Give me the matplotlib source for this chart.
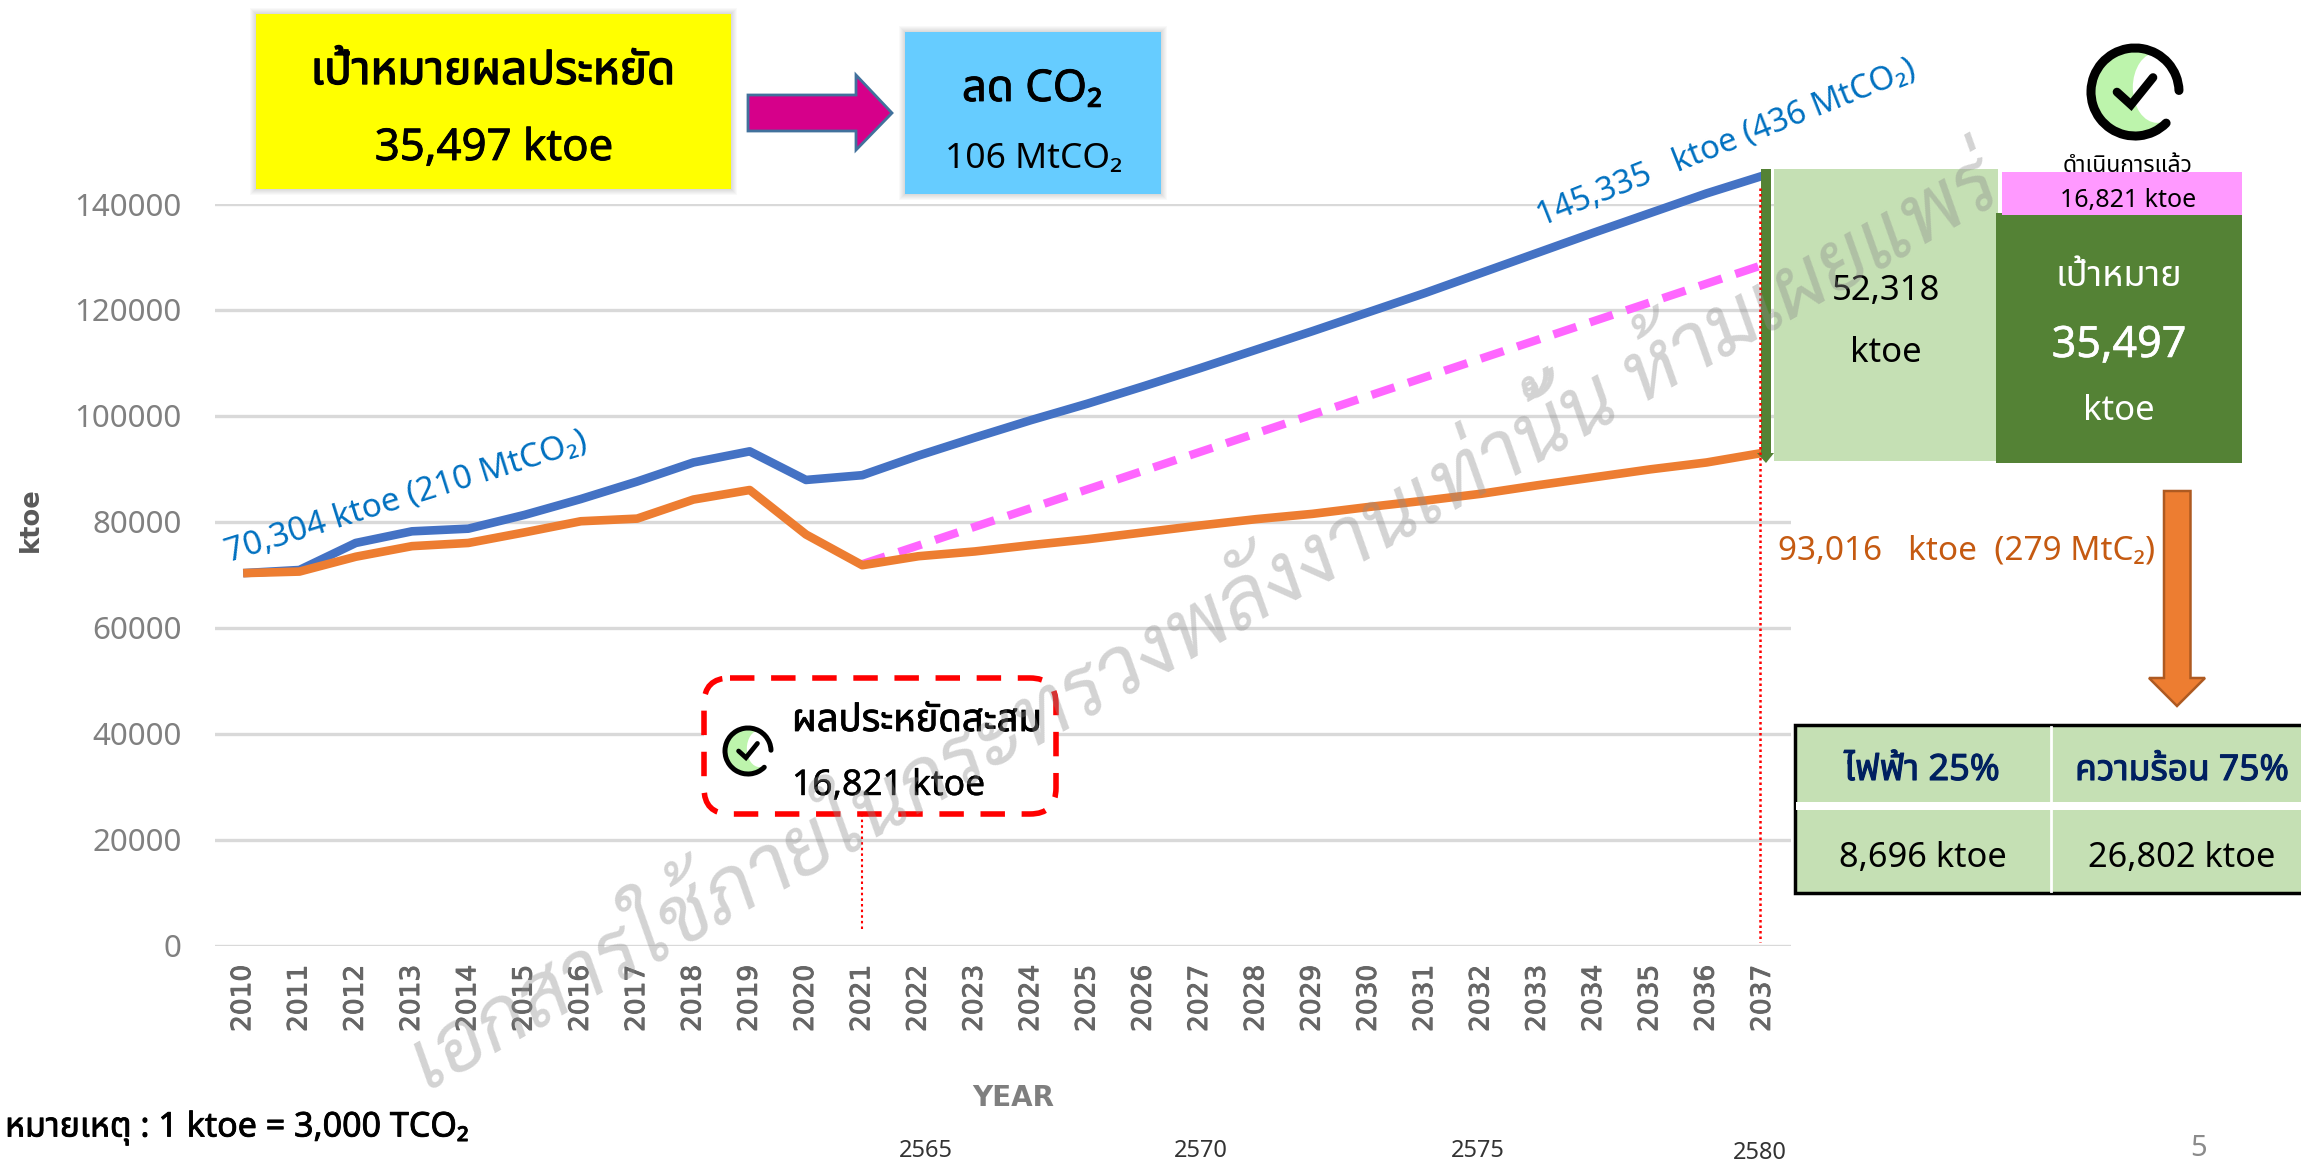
import matplotlib
matplotlib.use('Agg')
import matplotlib.pyplot as plt
import matplotlib.patheffects as pe
from matplotlib.patches import Rectangle, Polygon, FancyBboxPatch, Ellipse, Arc

plt.rcParams['font.family'] = ['Noto Sans Thai', 'Noto Sans', 'DejaVu Sans']

# data
years = list(range(2010, 2038))
baseline = [70304, 70900, 76000, 78200, 78700, 81300, 84300, 87600, 91200, 93300,
            87900, 88800, 92500, 95900, 99200, 102300, 105600, 109000, 112500, 116000,
            119600, 123200, 127000, 130800, 134600, 138300, 142000, 145335]
actual = [70304, 70600, 73400, 75400, 76000, 78000, 80100, 80600, 84200, 86000,
          77600, 71800, 73500, 74400, 75600, 76700, 78000, 79300, 80500, 81500,
          82800, 84000, 85300, 86900, 88400, 89900, 91200, 93016]
target_years = [2021, 2037]
target = [72000, 128500]
y_ticks = [0, 20000, 40000, 60000, 80000, 100000, 120000, 140000]
be_years = ['2565', '2570', '2575', '2580']

W, H = 2301, 1165
fig = plt.figure(figsize=(W / 100, H / 100), dpi=100)

# chart axes, placed by pixel
ax = fig.add_axes([215 / W, 1 - 945.5 / H, (1791 - 215) / W, (945.5 - 204) / H])
ax.set_xlim(2009.5, 2037.5)
ax.set_ylim(0, 140000)
for s in ax.spines.values():
    s.set_visible(False)
ax.set_yticks(y_ticks)
ax.set_xticks(years)
ax.set_yticklabels([str(v) for v in y_ticks], fontsize=22.5, color='#808080', family=['Noto Sans', 'DejaVu Sans'])
ax.set_xticklabels([str(v) for v in years], fontsize=19, color='#666666', rotation=90, family='DejaVu Sans',
                   path_effects=[pe.withStroke(linewidth=0.7, foreground='#666666')])
ax.tick_params(length=0, axis='y', pad=24)
ax.tick_params(length=0, axis='x', pad=14)
ax.grid(axis='y', color='#D9D9D9', lw=2.4)
ax.grid(axis='x', visible=False)
ax.set_axisbelow(True)

ax.plot(years, baseline, color='#4472C4', lw=6.2, clip_on=False, solid_capstyle='butt')
ax.plot(target_years, target, color='#FF66FF', lw=6, clip_on=False, dashes=(2.9, 1.7))
ax.plot(years, actual, color='#ED7D31', lw=6.2, clip_on=False, solid_capstyle='butt')

# overlay in picture pixels for the slide shapes
ov = fig.add_axes([0, 0, 1, 1], facecolor='none')
ov.set_xlim(0, W)
ov.set_ylim(H, 0)
ov.axis('off')


def box(x0, y0, x1, y1, color, z=3, shadow=False):
    if shadow:
        # soft shadow around the box
        for i in range(6, 0, -1):
            ov.add_patch(Rectangle((x0 - i, y0 - i), x1 - x0 + 2 * i, y1 - y0 + 2 * i,
                                   fc='#000000', ec='none', alpha=0.025, zorder=z))
    ov.add_patch(Rectangle((x0, y0), x1 - x0, y1 - y0, fc=color, ec='none', zorder=z))


def label(x, y, s, size, color='black', z=6, stroke=0, **kw):
    kw.setdefault('ha', 'center')
    t = ov.text(x, y + 3, s, fontsize=size, color=color, va='center', zorder=z, **kw)
    if stroke:
        # the Thai font only has one weight here, so thicken it by hand
        t.set_path_effects([pe.withStroke(linewidth=stroke, foreground=color)])


def check_icon(cx, cy, r, lw):
    # green crescent, black open ring and a tick
    ov.add_patch(Ellipse((cx, cy), 2 * r * 0.92, 2 * r * 0.92, fc='#BDF4AC', ec='none', zorder=7))
    ov.add_patch(Ellipse((cx + r * 0.5, cy - r * 0.1), 1.1 * r, 1.6 * r, fc='white', ec='none', zorder=7))
    ov.add_patch(Arc((cx, cy), 2 * r, 2 * r, theta1=45, theta2=358, lw=lw, color='black',
                     zorder=8, capstyle='round'))
    ov.plot([cx - r * 0.41, cx - r * 0.09, cx + r * 0.41], [cy + r * 0.0, cy + r * 0.29, cy - r * 0.33],
            color='black', lw=lw * 0.95, zorder=8, solid_capstyle='round', solid_joinstyle='miter')


# top boxes
box(256, 14, 731, 189, '#FFFF00', shadow=True)
label(493, 69, 'เป้าหมายผลประหยัด', 33, stroke=1.0)
label(494, 146, '35,497 ktoe', 31.5, stroke=0.6)
box(905, 32, 1161, 194, '#66CCFF', shadow=True)
label(1032, 87, 'ลด CO₂', 31.5, stroke=0.6)
label(1034, 156, '106 MtCO₂', 25.5)
ov.add_patch(Polygon([(748, 95), (856, 95), (856, 75), (892, 113), (856, 150), (856, 131), (748, 131)],
                     fc='#D6008A', ec='#41719C', lw=2, zorder=3))

# rotated series labels
label(406, 494, '70,304 ktoe (210 MtCO₂)', 24, color='#0070C0', rotation=17.4, rotation_mode='anchor')
label(1726, 140, '145,335   ktoe (436 MtCO₂)', 23.5, color='#0070C0', rotation=21.7, rotation_mode='anchor')
label(1778, 548, '93,016   ktoe  (279 MtC₂)', 24, color='#C55A11', ha='left')

# right panels
box(1774, 169, 1998, 461, '#C5E0B4')
box(1996, 213, 2242, 463, '#548235')
box(2002, 172, 2242, 215, '#FF99FF')
label(1886, 288, '52,318', 25)
label(1886, 350, 'ktoe', 25)
label(2128, 163, 'ดำเนินการแล้ว', 16.5)
label(2128, 197, '16,821 ktoe', 18)
label(2119, 274, 'เป้าหมาย', 26, color='white')
label(2119, 343, '35,497', 31, color='white', stroke=0.4)
label(2119, 408, 'ktoe', 25, color='white')
check_icon(2135, 92, 44, 6.5)

# green double gap arrow and the dotted year markers
ov.add_patch(Polygon([(1761, 169), (1771, 169), (1771, 453), (1774, 453), (1766, 463), (1757, 453), (1761, 453)],
                     fc='#548235', ec='none', zorder=4))
ov.plot([1760, 1760], [188, 942], color='red', lw=1.8, ls=(0, (1, 1.2)), zorder=5)
ov.plot([862, 862], [814, 930], color='red', lw=1.5, ls=(0, (1.2, 1.5)), zorder=5)

# orange arrow down
ov.add_patch(Polygon([(2164, 491), (2190.5, 491), (2190.5, 678), (2205, 678), (2177, 706), (2149, 678), (2164, 678)],
                     fc='#ED7D31', ec='#AE5A21', lw=1.8, zorder=3))

# table, runs off the right edge like the slide
ov.add_patch(Rectangle((1795, 725), 600, 168, fc='#C5E0B4', ec='black', lw=2.5, zorder=3))
ov.add_patch(Rectangle((1796, 802), 600, 8, fc='white', ec='none', zorder=4))
ov.plot([2051, 2051], [727, 891], color='white', lw=2, zorder=4)
label(1922, 768, 'ไฟฟ้า 25%', 26, color='#002060', stroke=0.8)
label(2182, 768, 'ความร้อน 75%', 25.5, color='#002060', stroke=0.8)
label(1923, 855, '8,696 ktoe', 24.8)
label(2182, 855, '26,802 ktoe', 24.8)

# savings callout
ov.add_patch(FancyBboxPatch((730, 704), 300, 84, boxstyle='round,pad=26,rounding_size=26', fc='white',
                            ec='#FF0000', lw=4, ls=(0, (4.4, 3)), zorder=3))
label(792, 718, 'ผลประหยัดสะสม', 27.5, ha='left', stroke=0.6)
label(792, 783, '16,821 ktoe', 25.5, ha='left', stroke=0.3)
check_icon(748, 751, 23, 3.6)

# axis titles and footer
label(31, 517, 'ktoe', 18.5, color='#595959', rotation=90, family='DejaVu Sans', weight='bold')
label(1013, 1095, 'YEAR', 20, color='#7F7F7F', family='DejaVu Sans', weight='bold')
label(5, 1125, 'หมายเหตุ : 1 ktoe = 3,000 TCO₂', 24.5, ha='left', stroke=0.6)
for x, y, s in zip([926, 1201, 1478, 1760], [1148, 1148, 1148, 1150], be_years):
    label(x, y, s, 17, color='#333333', family=['Noto Sans', 'DejaVu Sans'])
label(2199, 1146, '5', 21, color='#8B8B8B', family=['Noto Sans', 'DejaVu Sans'])

# watermark over everything
ov.text(1206, 626, 'เอกสารใช้ภายในกระทรวงพลังงานเท่านั้น ห้ามเผยแพร่', fontsize=60, color='#8C8C8C', alpha=0.38,
        family=['Sarabun', 'Noto Sans Thai'], style='italic', rotation=29.5,
        rotation_mode='anchor', ha='center', va='center', zorder=10)

fig.savefig('out.png', dpi=100)
